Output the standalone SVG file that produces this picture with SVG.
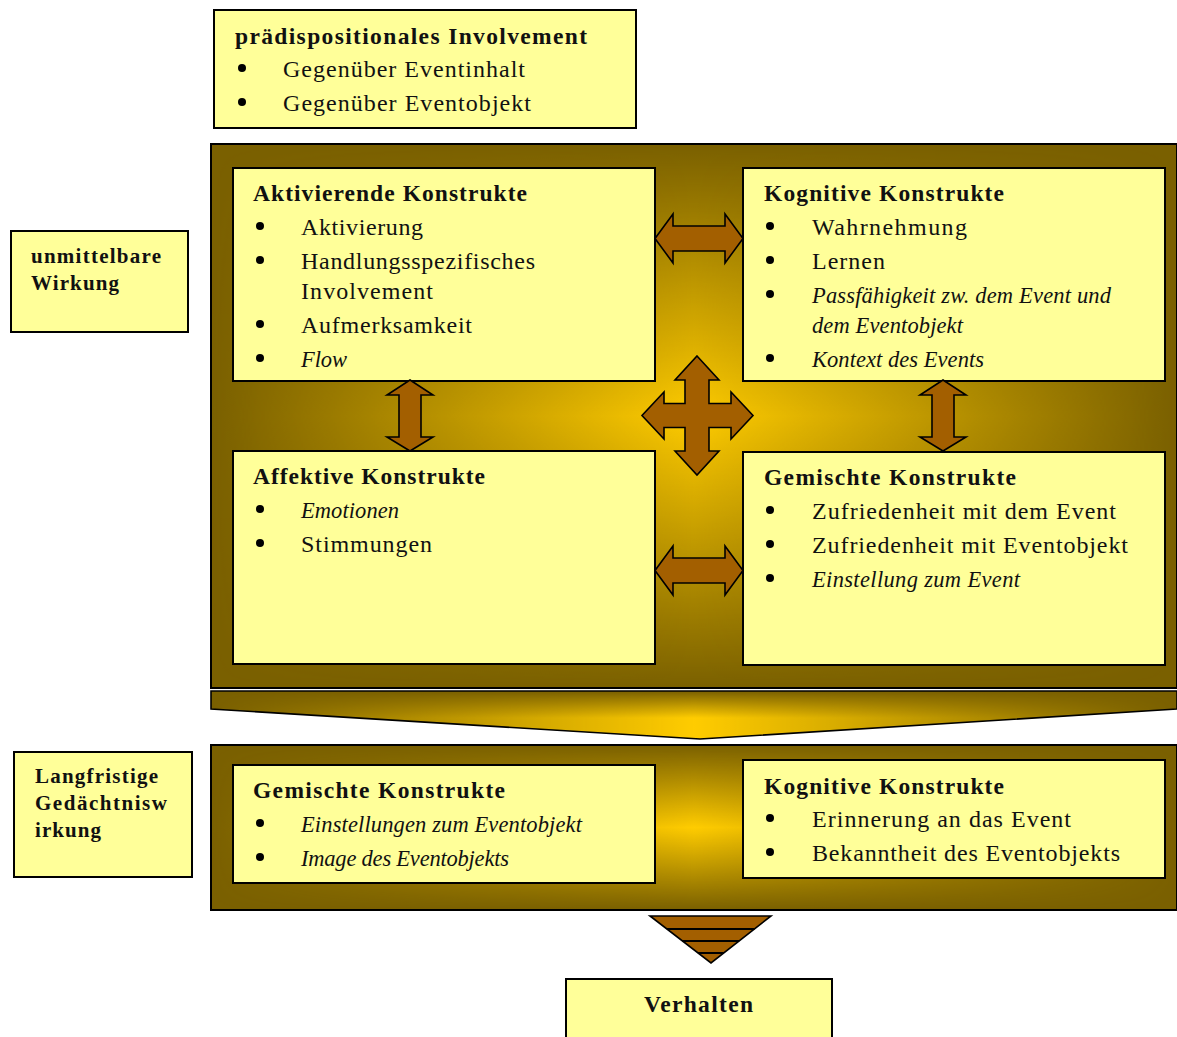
<svg xmlns="http://www.w3.org/2000/svg" width="1177" height="1037" viewBox="0 0 1177 1037">
  <style>
    .box { fill: #FFFF99; stroke: #000; stroke-width: 2; }
    .txt { font-family: "Liberation Serif", "DejaVu Serif", serif; font-size: 24px; fill: #111; }
    .b { font-weight: bold; font-size: 23.5px; }
    .sm { font-size: 21px; }
    .i { font-style: italic; font-size: 22.5px; }
    .arrow { fill: #A35F00; stroke: #000; stroke-width: 1.6; stroke-linejoin: miter; }
    .dot { fill: #000; }
    .edge { fill: none; stroke: #000; stroke-width: 2; }
  </style>
  <defs>
    <!-- panel shading: dark olive rim fading to gold in the middle -->
    <linearGradient id="gx" x1="0" y1="0" x2="1" y2="0">
      <stop offset="0" stop-color="#000"/>
      <stop offset="0.5" stop-color="#fff"/>
      <stop offset="1" stop-color="#000"/>
    </linearGradient>
    <linearGradient id="gy" x1="0" y1="0" x2="0" y2="1">
      <stop offset="0" stop-color="#000"/>
      <stop offset="0.5" stop-color="#fff"/>
      <stop offset="1" stop-color="#000"/>
    </linearGradient>
    <mask id="mxTop" maskUnits="userSpaceOnUse" x="211" y="144" width="966" height="544">
      <rect x="211" y="144" width="966" height="544" fill="url(#gx)"/>
    </mask>
    <mask id="myTop" maskUnits="userSpaceOnUse" x="211" y="144" width="966" height="544">
      <rect x="211" y="144" width="966" height="544" fill="url(#gy)"/>
    </mask>
    <mask id="mxBot" maskUnits="userSpaceOnUse" x="211" y="745" width="966" height="165">
      <rect x="211" y="745" width="966" height="165" fill="url(#gx)"/>
    </mask>
    <mask id="myBot" maskUnits="userSpaceOnUse" x="211" y="745" width="966" height="165">
      <rect x="211" y="745" width="966" height="165" fill="url(#gy)"/>
    </mask>
    <mask id="mxChev" maskUnits="userSpaceOnUse" x="211" y="691" width="966" height="49">
      <rect x="211" y="691" width="966" height="49" fill="url(#gx)"/>
    </mask>
    <linearGradient id="gyChev" x1="0" y1="0" x2="0" y2="1">
      <stop offset="0" stop-color="#000"/>
      <stop offset="0.55" stop-color="#fff"/>
      <stop offset="1" stop-color="#fff"/>
    </linearGradient>
    <mask id="myChev" maskUnits="userSpaceOnUse" x="211" y="691" width="966" height="49">
      <rect x="211" y="691" width="966" height="49" fill="url(#gyChev)"/>
    </mask>
  </defs>

  <!-- top: predispositional involvement -->
  <g id="praedisposition">
    <rect class="box" x="214" y="10" width="422" height="118"/>
    <text class="txt b" x="235" y="44" textLength="352">prädispositionales Involvement</text>
    <circle class="dot" cx="242" cy="68" r="4"/>
    <text class="txt" x="283" y="77" textLength="242">Gegenüber Eventinhalt</text>
    <circle class="dot" cx="242" cy="102" r="4"/>
    <text class="txt" x="283" y="111" textLength="248">Gegenüber Eventobjekt</text>
  </g>

  <!-- immediate effect panel -->
  <g id="panel-unmittelbar">
    <rect x="211" y="144" width="966" height="544" fill="#7A6000"/>
    <g mask="url(#mxTop)">
      <g mask="url(#myTop)">
        <rect x="211" y="144" width="966" height="544" fill="#FFCC00"/>
      </g>
    </g>
    <rect class="edge" x="211" y="144" width="966" height="544"/>
  </g>

  <g id="aktivierende">
    <rect class="box" x="233" y="168" width="422" height="213"/>
    <text class="txt b" x="253" y="201" textLength="274">Aktivierende Konstrukte</text>
    <circle class="dot" cx="260" cy="226" r="4"/>
    <text class="txt" x="301" y="235" textLength="122">Aktivierung</text>
    <circle class="dot" cx="260" cy="260" r="4"/>
    <text class="txt" x="301" y="269" textLength="234">Handlungsspezifisches</text>
    <text class="txt" x="301" y="299" textLength="132">Involvement</text>
    <circle class="dot" cx="260" cy="324" r="4"/>
    <text class="txt" x="301" y="333" textLength="171">Aufmerksamkeit</text>
    <circle class="dot" cx="260" cy="358" r="4"/>
    <text class="txt i" x="301" y="367" textLength="46">Flow</text>
  </g>

  <g id="kognitive">
    <rect class="box" x="743" y="168" width="422" height="213"/>
    <text class="txt b" x="764" y="201" textLength="240">Kognitive Konstrukte</text>
    <circle class="dot" cx="770" cy="226" r="4"/>
    <text class="txt" x="812" y="235" textLength="155">Wahrnehmung</text>
    <circle class="dot" cx="770" cy="260" r="4"/>
    <text class="txt" x="812" y="269" textLength="73">Lernen</text>
    <circle class="dot" cx="770" cy="294" r="4"/>
    <text class="txt i" x="812" y="303" textLength="299">Passfähigkeit zw. dem Event und</text>
    <text class="txt i" x="812" y="333" textLength="151">dem Eventobjekt</text>
    <circle class="dot" cx="770" cy="358" r="4"/>
    <text class="txt i" x="812" y="367" textLength="172">Kontext des Events</text>
  </g>

  <g id="affektive">
    <rect class="box" x="233" y="451" width="422" height="213"/>
    <text class="txt b" x="253" y="484" textLength="232">Affektive Konstrukte</text>
    <circle class="dot" cx="260" cy="509" r="4"/>
    <text class="txt i" x="301" y="518" textLength="98">Emotionen</text>
    <circle class="dot" cx="260" cy="543" r="4"/>
    <text class="txt" x="301" y="552" textLength="131">Stimmungen</text>
  </g>

  <g id="gemischte">
    <rect class="box" x="743" y="452" width="422" height="213"/>
    <text class="txt b" x="764" y="485" textLength="252">Gemischte Konstrukte</text>
    <circle class="dot" cx="770" cy="510" r="4"/>
    <text class="txt" x="812" y="519" textLength="304">Zufriedenheit mit dem Event</text>
    <circle class="dot" cx="770" cy="544" r="4"/>
    <text class="txt" x="812" y="553" textLength="316">Zufriedenheit mit Eventobjekt</text>
    <circle class="dot" cx="770" cy="578" r="4"/>
    <text class="txt i" x="812" y="587" textLength="208">Einstellung zum Event</text>
  </g>

  <g id="label-unmittelbar">
    <rect class="box" x="11" y="231" width="177" height="101"/>
    <text class="txt b sm" x="31" y="263" textLength="130">unmittelbare</text>
    <text class="txt b sm" x="31" y="290" textLength="88">Wirkung</text>
  </g>

  <!-- interaction arrows between the construct groups -->
  <g id="connectors">
    <path class="arrow" d="M655,238.5 L673,214 L673,226 L725,226 L725,214 L743,238.5 L725,263 L725,251 L673,251 L673,263 Z"/>
    <path class="arrow" d="M655,570.5 L673,546 L673,558 L725,558 L725,546 L743,570.5 L725,595 L725,583 L673,583 L673,595 Z"/>
    <path class="arrow" d="M410,380 L433,395 L421,395 L421,437 L433,437 L410,451 L387,437 L399,437 L399,395 L387,395 Z"/>
    <path class="arrow" d="M943,380 L966,395 L954,395 L954,437 L966,437 L943,451 L920,437 L932,437 L932,395 L920,395 Z"/>
    <path class="arrow" d="M697,356 L719,380 L709,380 L709,403.5 L731,403.5 L731,392 L753,415.5 L731,439 L731,427.5 L709,427.5 L709,451 L719,451 L697,475 L675,451 L685,451 L685,427.5 L664,427.5 L664,439 L642,415.5 L664,392 L664,403.5 L685,403.5 L685,380 L675,380 Z"/>

    <!-- transition band down to the long-term panel -->
    <g id="chevron">
      <path d="M211,691 L1177,691 L1177,709 L700,739 L211,709 Z" fill="#7A6000"/>
      <g mask="url(#mxChev)">
        <g mask="url(#myChev)">
          <path d="M211,691 L1177,691 L1177,709 L700,739 L211,709 Z" fill="#FFCC00"/>
        </g>
      </g>
      <path d="M211,691 L1177,691 L1177,709 L700,739 L211,709 Z" fill="none" stroke="#000" stroke-width="1.6"/>
    </g>

    <!-- striped arrow down to behaviour -->
    <g id="triangle">
      <path class="arrow" d="M650,916 L771,916 L711,963 Z"/>
      <path d="M666.9,929 L754.4,929 M682.4,941 L739.1,941 M698,953 L723.8,953" stroke="#000" stroke-width="2" fill="none"/>
    </g>
  </g>

  <!-- long-term memory panel -->
  <g id="panel-langfristig">
    <rect x="211" y="745" width="966" height="165" fill="#7A6000"/>
    <g mask="url(#mxBot)">
      <g mask="url(#myBot)">
        <rect x="211" y="745" width="966" height="165" fill="#FFCC00"/>
      </g>
    </g>
    <rect class="edge" x="211" y="745" width="966" height="165"/>
  </g>

  <g id="gemischte-lang">
    <rect class="box" x="233" y="765" width="422" height="118"/>
    <text class="txt b" x="253" y="798" textLength="252">Gemischte Konstrukte</text>
    <circle class="dot" cx="260" cy="823" r="4"/>
    <text class="txt i" x="301" y="832" textLength="281">Einstellungen zum Eventobjekt</text>
    <circle class="dot" cx="260" cy="857" r="4"/>
    <text class="txt i" x="301" y="866" textLength="208">Image des Eventobjekts</text>
  </g>

  <g id="kognitive-lang">
    <rect class="box" x="743" y="760" width="422" height="118"/>
    <text class="txt b" x="764" y="794" textLength="240">Kognitive Konstrukte</text>
    <circle class="dot" cx="770" cy="818" r="4"/>
    <text class="txt" x="812" y="827" textLength="259">Erinnerung an das Event</text>
    <circle class="dot" cx="770" cy="852" r="4"/>
    <text class="txt" x="812" y="861" textLength="308">Bekanntheit des Eventobjekts</text>
  </g>

  <g id="label-langfristig">
    <rect class="box" x="14" y="752" width="178" height="125"/>
    <text class="txt b sm" x="35" y="783" textLength="123">Langfristige</text>
    <text class="txt b sm" x="35" y="810" textLength="132">Gedächtnisw</text>
    <text class="txt b sm" x="35" y="837" textLength="66">irkung</text>
  </g>

  <g id="verhalten">
    <rect class="box" x="566" y="979" width="266" height="70"/>
    <text class="txt b" x="644" y="1012" textLength="109">Verhalten</text>
  </g>
</svg>
